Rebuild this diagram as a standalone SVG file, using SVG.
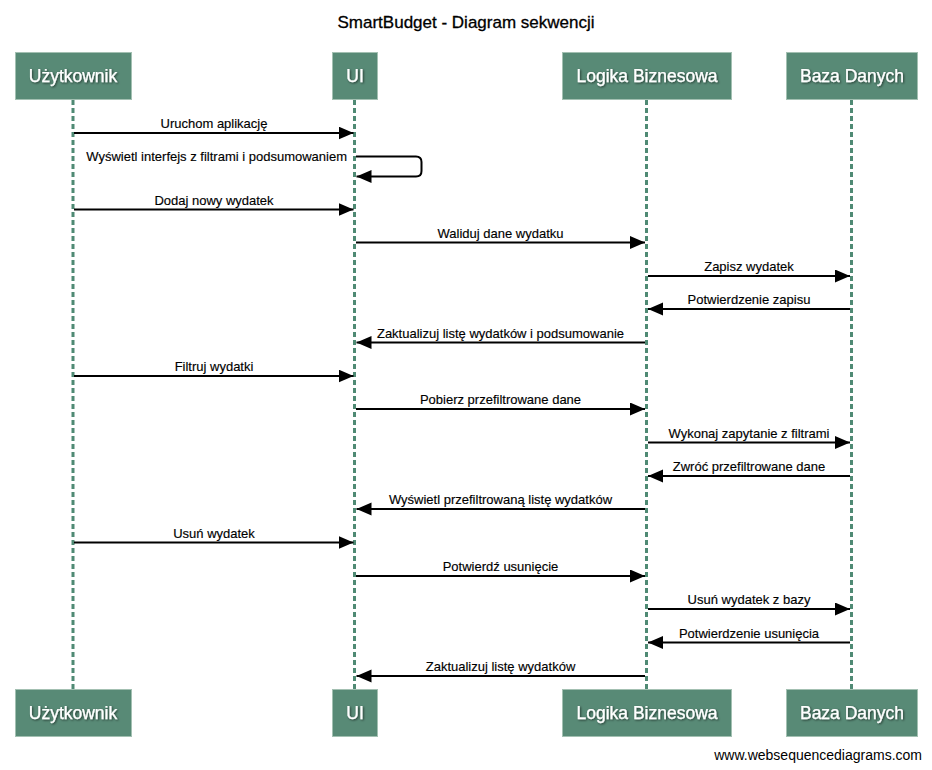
<svg xmlns="http://www.w3.org/2000/svg" width="932" height="770" viewBox="0 0 932 770">
  <style>
    .box { fill: #588a76; stroke: #a3c0b2; stroke-width: 1; }
    .boxlabel { font-family: "Liberation Sans", Arial, sans-serif; font-size: 17.5px; fill: #ffffff; stroke: #ffffff; stroke-width: 0.25; text-anchor: middle; filter: url(#shadow); }
    .life { stroke: #4f8a74; stroke-width: 3; stroke-dasharray: 5 3; fill: none; }
    .msg { stroke: #000000; stroke-width: 2; fill: none; marker-end: url(#head); }
    .lbl { font-family: "Liberation Sans", Arial, sans-serif; font-size: 13px; fill: #000000; stroke: #000000; stroke-width: 0.15; text-anchor: middle; }
    .title { font-family: "Liberation Sans", Arial, sans-serif; font-size: 17px; fill: #000000; stroke: #000000; stroke-width: 0.3; text-anchor: middle; }
    .foot { font-family: "Liberation Sans", Arial, sans-serif; font-size: 14px; fill: #000000; text-anchor: end; }
  </style>
  <defs>
    <marker id="head" markerUnits="userSpaceOnUse" markerWidth="16" markerHeight="14" refX="15" refY="6.5" orient="auto">
      <path d="M0,0 L15,6.5 L0,13 z" fill="#000000"/>
    </marker>
    <filter id="shadow" x="-10%" y="-30%" width="120%" height="160%">
      <feDropShadow dx="1" dy="1" stdDeviation="0.8" flood-color="#000000" flood-opacity="0.6"/>
    </filter>
  </defs>

  <rect width="932" height="770" fill="#ffffff"/>

  <text class="title" x="466" y="28">SmartBudget - Diagram sekwencji</text>

  <!-- lifelines -->
  <g id="lifelines">
    <line class="life" x1="73" y1="100" x2="73" y2="689"/>
    <line class="life" x1="354.5" y1="100" x2="354.5" y2="689"/>
    <line class="life" x1="646.5" y1="100" x2="646.5" y2="689"/>
    <line class="life" x1="851.5" y1="100" x2="851.5" y2="689"/>
  </g>

  <!-- participants -->
  <g id="uzytkownik">
    <rect class="box" x="15.5" y="52.5" width="116" height="47"/>
    <text class="boxlabel" x="73" y="82">Użytkownik</text>
    <rect class="box" x="15.5" y="689.5" width="116" height="47"/>
    <text class="boxlabel" x="73" y="719">Użytkownik</text>
  </g>
  <g id="ui">
    <rect class="box" x="332.5" y="52.5" width="45" height="47"/>
    <text class="boxlabel" x="355" y="82">UI</text>
    <rect class="box" x="332.5" y="689.5" width="45" height="47"/>
    <text class="boxlabel" x="355" y="719">UI</text>
  </g>
  <g id="logika">
    <rect class="box" x="562.5" y="52.5" width="169" height="47"/>
    <text class="boxlabel" x="647" y="82">Logika Biznesowa</text>
    <rect class="box" x="562.5" y="689.5" width="169" height="47"/>
    <text class="boxlabel" x="647" y="719">Logika Biznesowa</text>
  </g>
  <g id="baza">
    <rect class="box" x="786.5" y="52.5" width="131" height="47"/>
    <text class="boxlabel" x="852" y="82">Baza Danych</text>
    <rect class="box" x="786.5" y="689.5" width="131" height="47"/>
    <text class="boxlabel" x="852" y="719">Baza Danych</text>
  </g>

  <!-- messages -->
  <g id="connectors">
    <line class="msg" x1="74" y1="133" x2="353.5" y2="133"/>
    <text class="lbl" x="214" y="128">Uruchom aplikację</text>

    <path class="msg" d="M356,156.5 H416 Q421.5,156.5 421.5,162 V171 Q421.5,176.5 416,176.5 H356.5"/>
    <text class="lbl" x="347" y="161" style="text-anchor:end">Wyświetl interfejs z filtrami i podsumowaniem</text>

    <line class="msg" x1="74" y1="209.5" x2="353.5" y2="209.5"/>
    <text class="lbl" x="214" y="204.5">Dodaj nowy wydatek</text>

    <line class="msg" x1="356" y1="242.5" x2="645" y2="242.5"/>
    <text class="lbl" x="500.5" y="237.5">Waliduj dane wydatku</text>

    <line class="msg" x1="648" y1="276" x2="850" y2="276"/>
    <text class="lbl" x="749" y="271">Zapisz wydatek</text>

    <line class="msg" x1="850" y1="309" x2="648" y2="309"/>
    <text class="lbl" x="749" y="304">Potwierdzenie zapisu</text>

    <line class="msg" x1="645" y1="342.5" x2="356.5" y2="342.5"/>
    <text class="lbl" x="500.5" y="337.5">Zaktualizuj listę wydatków i podsumowanie</text>

    <line class="msg" x1="74" y1="376" x2="353.5" y2="376"/>
    <text class="lbl" x="214" y="371">Filtruj wydatki</text>

    <line class="msg" x1="356" y1="409" x2="645" y2="409"/>
    <text class="lbl" x="500.5" y="404">Pobierz przefiltrowane dane</text>

    <line class="msg" x1="648" y1="442.5" x2="850" y2="442.5"/>
    <text class="lbl" x="749" y="437.5">Wykonaj zapytanie z filtrami</text>

    <line class="msg" x1="850" y1="476" x2="648" y2="476"/>
    <text class="lbl" x="749" y="471">Zwróć przefiltrowane dane</text>

    <line class="msg" x1="645" y1="509" x2="356.5" y2="509"/>
    <text class="lbl" x="500.5" y="504">Wyświetl przefiltrowaną listę wydatków</text>

    <line class="msg" x1="74" y1="542.5" x2="353.5" y2="542.5"/>
    <text class="lbl" x="214" y="537.5">Usuń wydatek</text>

    <line class="msg" x1="356" y1="576" x2="645" y2="576"/>
    <text class="lbl" x="500.5" y="571">Potwierdź usunięcie</text>

    <line class="msg" x1="648" y1="609" x2="850" y2="609"/>
    <text class="lbl" x="749" y="604">Usuń wydatek z bazy</text>

    <line class="msg" x1="850" y1="642.5" x2="648" y2="642.5"/>
    <text class="lbl" x="749" y="637.5">Potwierdzenie usunięcia</text>

    <line class="msg" x1="645" y1="676" x2="356.5" y2="676"/>
    <text class="lbl" x="500.5" y="671">Zaktualizuj listę wydatków</text>
  </g>

  <text class="foot" x="922" y="760">www.websequencediagrams.com</text>
</svg>
